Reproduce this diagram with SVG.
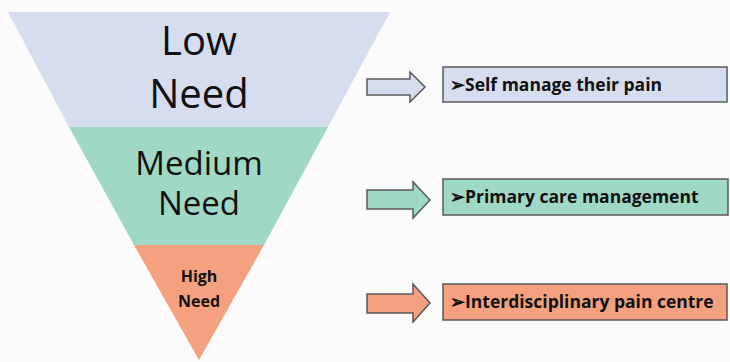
<svg xmlns="http://www.w3.org/2000/svg" width="730" height="362" viewBox="0 0 730 362">
<style>
.lbl{font-family:"Open Sans","Liberation Sans",sans-serif;fill:#111;text-anchor:middle}
.box{font-family:"Open Sans","Liberation Sans",sans-serif;font-weight:bold;font-size:17.5px;fill:#111}
.arrow{stroke:#5a5a5a;stroke-width:1.5}
.rect{stroke:#5a5a5a;stroke-width:1.5}
</style>
<rect width="730" height="362" fill="#fbfbfb"/>
<g id="low-need">
<polygon points="8,12 390,12 328,127 69,127" fill="#d6ddee"/>
<text class="lbl" x="199" y="55" font-size="40">Low</text>
<text class="lbl" x="199" y="108" font-size="40">Need</text>
</g>
<g id="medium-need">
<polygon points="69,127 328,127 264,245 134,245" fill="#9fd9c5"/>
<text class="lbl" x="199" y="175" font-size="33">Medium</text>
<text class="lbl" x="199" y="215" font-size="33">Need</text>
</g>
<g id="high-need">
<polygon points="134,245 264,245 199,360" fill="#f5a17f"/>
<text class="lbl" x="199" y="282" font-size="16" font-weight="bold">High</text>
<text class="lbl" x="199" y="307" font-size="16" font-weight="bold">Need</text>
</g>
<g id="connectors">
<polygon class="arrow" points="367,79 410,79 410,72 425,87 410,102 410,95 367,95" fill="#d6ddee"/>
<polygon class="arrow" points="367,190 413,190 413,182 430,200 413,218 413,209 367,209" fill="#9fd9c5"/>
<polygon class="arrow" points="367,294 413,294 413,284 430,303 413,322 413,313 367,313" fill="#f5a17f"/>
</g>
<g id="self-manage">
<rect class="rect" x="443" y="67" width="284" height="35" fill="#d6ddee"/>
<text class="box" x="450" y="91">➢Self manage their pain</text>
</g>
<g id="primary-care">
<rect class="rect" x="443" y="179" width="285" height="36" fill="#9fd9c5"/>
<text class="box" x="450" y="203">➢Primary care management</text>
</g>
<g id="interdisciplinary">
<rect class="rect" x="443" y="284" width="284" height="36" fill="#f5a17f"/>
<text class="box" x="450" y="308">➢Interdisciplinary pain centre</text>
</g>
</svg>
